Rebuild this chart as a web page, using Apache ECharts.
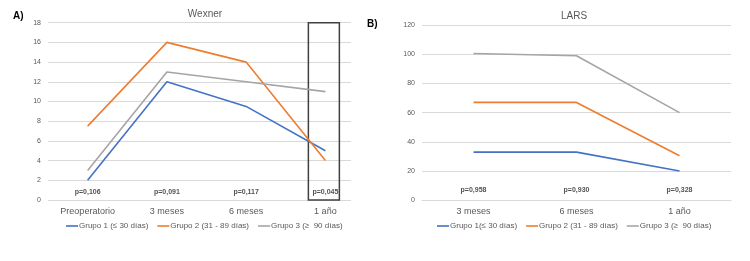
<!DOCTYPE html>
<html>
<head>
<meta charset="utf-8">
<script src="https://cdn.jsdelivr.net/npm/echarts@6/dist/echarts.min.js"></script>
<style>
  html, body { margin: 0; padding: 0; background: #fff; }
  #chart { width: 750px; height: 261px; }
</style>
</head>
<body>
<div id="chart"></div>
<script>
// Wexner (A)
var wexCats = ['Preoperatorio', '3 meses', '6 meses', '1 año'];
var wexG1 = [2, 12, 9.5, 5];
var wexG2 = [7.5, 16, 14, 4];
var wexG3 = [3, 13, 12, 11];
var wexP = ['p=0,106', 'p=0,091', 'p=0,117', 'p=0,045'];
var wexNames = ['Grupo 1 (≤ 30 días)', 'Grupo 2 (31 - 89 días)', 'Grupo 3 (≥  90 días)'];

// LARS (B)
var larsCats = ['3 meses', '6 meses', '1 año'];
var larsG1 = [33, 33, 20];
var larsG2 = [67, 67, 30.5];
var larsG3 = [100.5, 99, 60];
var larsP = ['p=0,958', 'p=0,930', 'p=0,328'];
var larsNames = ['Grupo 1(≤ 30 días)', 'Grupo 2 (31 - 89 días)', 'Grupo 3 (≥  90 días) '];

var colors = ['#4472C4', '#ED7D31', '#A5A5A5'];
var font = 'Liberation Sans, Arial, sans-serif';

function lineSeries(name, data, color, xi, yi) {
    return {
        name: name, type: 'line', data: data,
        xAxisIndex: xi, yAxisIndex: yi,
        symbol: 'none', smooth: false,
        lineStyle: { color: color, width: 1.6 },
        itemStyle: { color: color },
        silent: true
    };
}

function pSeries(cats, labels, yVal, xi, yi) {
    return {
        type: 'scatter', xAxisIndex: xi, yAxisIndex: yi,
        symbolSize: 0, silent: true,
        data: cats.map(function (c, i) { return [c, yVal]; }),
        label: {
            show: true, position: 'inside',
            fontFamily: font, fontSize: 7, fontWeight: 'bold', color: '#262626',
            formatter: function (p) { return labels[p.dataIndex]; }
        }
    };
}

var axisText = { color: '#595959', fontFamily: font };
var gridLine = { show: true, lineStyle: { color: '#D9D9D9', width: 1 } };

function legendFor(names, left) {
    return {
        data: names, left: left, top: 222, icon: 'rect', padding: 0,
        itemWidth: 12, itemHeight: 1.6, itemGap: 9,
        selectedMode: false, width: 320,
        textStyle: { fontSize: 8, color: '#595959', fontFamily: font, padding: [0, 0, 0, -4] }
    };
}

var option = {
    animation: false,
    backgroundColor: '#fff',
    title: [
        { text: 'Wexner', left: 200, top: 4, textAlign: 'center',
          textStyle: { fontSize: 10, fontWeight: 'normal', color: '#595959', fontFamily: font } },
        { text: 'LARS', left: 569, top: 6, textAlign: 'center',
          textStyle: { fontSize: 10, fontWeight: 'normal', color: '#595959', fontFamily: font } },
        { text: 'A)', left: 8, top: 6,
          textStyle: { fontSize: 10, fontWeight: 'bold', color: '#000', fontFamily: font } },
        { text: 'B)', left: 362, top: 14,
          textStyle: { fontSize: 10, fontWeight: 'bold', color: '#000', fontFamily: font } }
    ],
    grid: [
        { left: 48, top: 22.7, width: 303, height: 177.3 },
        { left: 48, top: 22.7, width: 317, height: 177.3 },
        { left: 422, top: 25, width: 309, height: 175.3 }
    ],
    xAxis: [
        { gridIndex: 0, type: 'value', min: 0, max: 1, show: false },
        { gridIndex: 1, type: 'category', data: wexCats, boundaryGap: true,
          axisLine: { show: false }, axisTick: { show: false },
          axisLabel: Object.assign({ fontSize: 9, margin: 7 }, axisText) },
        { gridIndex: 2, type: 'category', data: larsCats, boundaryGap: true,
          axisLine: { show: true, lineStyle: { color: '#D9D9D9' } }, axisTick: { show: false },
          axisLabel: Object.assign({ fontSize: 9, margin: 7 }, axisText) }
    ],
    yAxis: [
        { gridIndex: 0, type: 'value', min: 0, max: 18, interval: 2,
          axisLine: { show: false }, axisTick: { show: false },
          axisLabel: Object.assign({ fontSize: 7, margin: 7 }, axisText),
          splitLine: gridLine },
        { gridIndex: 1, type: 'value', min: 0, max: 18, show: false, splitLine: { show: false } },
        { gridIndex: 2, type: 'value', min: 0, max: 120, interval: 20,
          axisLine: { show: false }, axisTick: { show: false },
          axisLabel: Object.assign({ fontSize: 7, margin: 7 }, axisText),
          splitLine: gridLine }
    ],
    legend: [legendFor(wexNames, 66), legendFor(larsNames, 437)],
    series: [
        lineSeries(wexNames[0], wexG1, colors[0], 1, 1),
        lineSeries(wexNames[1], wexG2, colors[1], 1, 1),
        lineSeries(wexNames[2], wexG3, colors[2], 1, 1),
        pSeries(wexCats, wexP, 0.8, 1, 1),
        lineSeries(larsNames[0], larsG1, colors[0], 2, 2),
        lineSeries(larsNames[1], larsG2, colors[1], 2, 2),
        lineSeries(larsNames[2], larsG3, colors[2], 2, 2),
        pSeries(larsCats, larsP, 7, 2, 2)
    ]
};

var myChart = echarts.init(document.getElementById('chart'), null, { renderer: 'canvas' });
myChart.setOption(option);

// box round the 1 año column of Wexner
var top18 = myChart.convertToPixel({ xAxisIndex: 1, yAxisIndex: 1 }, [3, 18]);
var bot0 = myChart.convertToPixel({ xAxisIndex: 1, yAxisIndex: 1 }, [3, 0]);
myChart.setOption({
    graphic: [{
        type: 'rect', silent: true,
        shape: { x: top18[0] - 17, y: top18[1], width: 31, height: bot0[1] - top18[1] },
        style: { fill: 'none', stroke: '#404040', lineWidth: 1.5 }
    }]
});
</script>
</body>
</html>
